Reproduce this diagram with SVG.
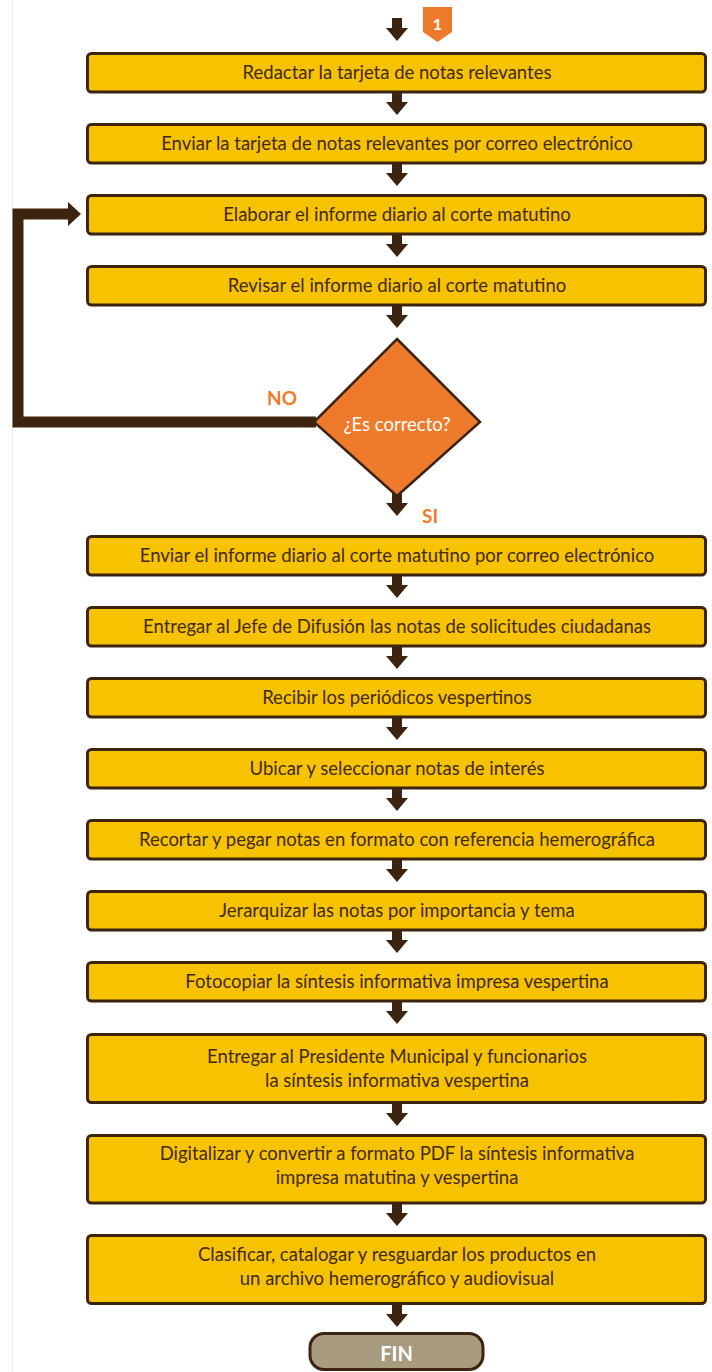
<svg xmlns="http://www.w3.org/2000/svg" width="712" height="1372" viewBox="0 0 712 1372">
  <style>
    .box { fill: #f7c300; stroke: #3d2411; stroke-width: 3; }
    .txt { font-family: Lato, "Open Sans", sans-serif; font-size: 18.5px; fill: #45290c; text-anchor: middle; dominant-baseline: central; }
    .lbl { font-family: Lato, "Open Sans", sans-serif; font-size: 19px; font-weight: bold; fill: #ee7a2c; text-anchor: middle; dominant-baseline: central; }
    .arrow { fill: #3d2411; }
  </style>
  <defs>
    <path id="down" class="arrow" d="M-5 0 H5 V10 H11 L0 23 L-11 10 H-5 Z"/>
  </defs>

  <rect width="712" height="1372" fill="#ffffff"/>
  <line x1="12.5" y1="0" x2="12.5" y2="1372" stroke="#ececec" stroke-width="1"/>

  <!-- connectors -->
  <g id="connectors">
    <use href="#down" x="397" y="18"/>
    <use href="#down" x="397" y="92"/>
    <use href="#down" x="397" y="163"/>
    <use href="#down" x="397" y="234"/>
    <use href="#down" x="397" y="305"/>
    <use href="#down" x="397" y="493"/>
    <use href="#down" x="397" y="575"/>
    <use href="#down" x="397" y="646"/>
    <use href="#down" x="397" y="717"/>
    <use href="#down" x="397" y="788"/>
    <use href="#down" x="397" y="859"/>
    <use href="#down" x="397" y="930"/>
    <use href="#down" x="397" y="1001"/>
    <use href="#down" x="397" y="1103"/>
    <use href="#down" x="397" y="1203"/>
    <use href="#down" x="397" y="1304"/>
    <!-- NO loop back to "Elaborar" -->
    <path d="M316 422 H18 V214 H70" fill="none" stroke="#3d2411" stroke-width="11" stroke-linejoin="miter"/>
    <path class="arrow" d="M68 202 L81 214 L68 226 Z"/>
  </g>

  <!-- start marker -->
  <g id="marker1">
    <path d="M423 7 H452 V32 L437.5 42 L423 32 Z" fill="#ee7a2c"/>
    <text x="437.5" y="23" font-family="Lato, sans-serif" font-size="16" font-weight="bold" fill="#ffffff" text-anchor="middle" dominant-baseline="central">1</text>
  </g>

  <g id="n1"><rect class="box" x="87.5" y="53.5" width="618" height="38.5" rx="4"/><text class="txt" x="397" y="72">Redactar la tarjeta de notas relevantes</text></g>
  <g id="n2"><rect class="box" x="87.5" y="124.5" width="618" height="38.5" rx="4"/><text class="txt" x="397" y="143">Enviar la tarjeta de notas relevantes por correo electrónico</text></g>
  <g id="n3"><rect class="box" x="87.5" y="195.5" width="618" height="38.5" rx="4"/><text class="txt" x="397" y="214">Elaborar el informe diario al corte matutino</text></g>
  <g id="n4"><rect class="box" x="87.5" y="266.5" width="618" height="38.5" rx="4"/><text class="txt" x="397" y="285">Revisar el informe diario al corte matutino</text></g>

  <g id="decision">
    <path d="M397 339 L480 422 L397 496 L314 422 Z" fill="#ee7a2c" stroke="#3d2411" stroke-width="2.5" stroke-linejoin="miter"/>
    <text x="397" y="424" font-family="Lato, 'Open Sans', sans-serif" font-size="18.5" fill="#ffffff" text-anchor="middle" dominant-baseline="central">¿Es correcto?</text>
    <text class="lbl" x="282" y="397">NO</text>
    <text class="lbl" x="430" y="515">SI</text>
  </g>

  <g id="n5"><rect class="box" x="87.5" y="536.5" width="618" height="38.5" rx="4"/><text class="txt" x="397" y="555">Enviar el informe diario al corte matutino por correo electrónico</text></g>
  <g id="n6"><rect class="box" x="87.5" y="607.5" width="618" height="38.5" rx="4"/><text class="txt" x="397" y="626">Entregar al Jefe de Difusión las notas de solicitudes ciudadanas</text></g>
  <g id="n7"><rect class="box" x="87.5" y="678.5" width="618" height="38.5" rx="4"/><text class="txt" x="397" y="697">Recibir los periódicos vespertinos</text></g>
  <g id="n8"><rect class="box" x="87.5" y="749.5" width="618" height="38.5" rx="4"/><text class="txt" x="397" y="768">Ubicar y seleccionar notas de interés</text></g>
  <g id="n9"><rect class="box" x="87.5" y="820.5" width="618" height="38.5" rx="4"/><text class="txt" x="397" y="839">Recortar y pegar notas en formato con referencia hemerográfica</text></g>
  <g id="n10"><rect class="box" x="87.5" y="891.5" width="618" height="38.5" rx="4"/><text class="txt" x="397" y="910">Jerarquizar las notas por importancia y tema</text></g>
  <g id="n11"><rect class="box" x="87.5" y="962.5" width="618" height="38.5" rx="4"/><text class="txt" x="397" y="981">Fotocopiar la síntesis informativa impresa vespertina</text></g>
  <g id="n12"><rect class="box" x="87.5" y="1034.5" width="618" height="68" rx="4"/>
    <text class="txt" x="397" y="1056">Entregar al Presidente Municipal y funcionarios</text>
    <text class="txt" x="397" y="1080">la síntesis informativa vespertina</text></g>
  <g id="n13"><rect class="box" x="87.5" y="1135.5" width="618" height="67.5" rx="4"/>
    <text class="txt" x="397" y="1153">Digitalizar y convertir a formato PDF la síntesis informativa</text>
    <text class="txt" x="397" y="1177">impresa matutina y vespertina</text></g>
  <g id="n14"><rect class="box" x="87.5" y="1235.5" width="618" height="68" rx="4"/>
    <text class="txt" x="397" y="1254">Clasificar, catalogar y resguardar los productos en</text>
    <text class="txt" x="397" y="1278">un archivo hemerográfico y audiovisual</text></g>

  <g id="fin">
    <rect x="310" y="1333.5" width="173" height="36" rx="14" fill="#a99b7f" stroke="#3d2411" stroke-width="3"/>
    <text x="396.5" y="1353" font-family="Lato, 'Open Sans', sans-serif" font-size="20" font-weight="bold" fill="#ffffff" text-anchor="middle" dominant-baseline="central">FIN</text>
  </g>
</svg>
